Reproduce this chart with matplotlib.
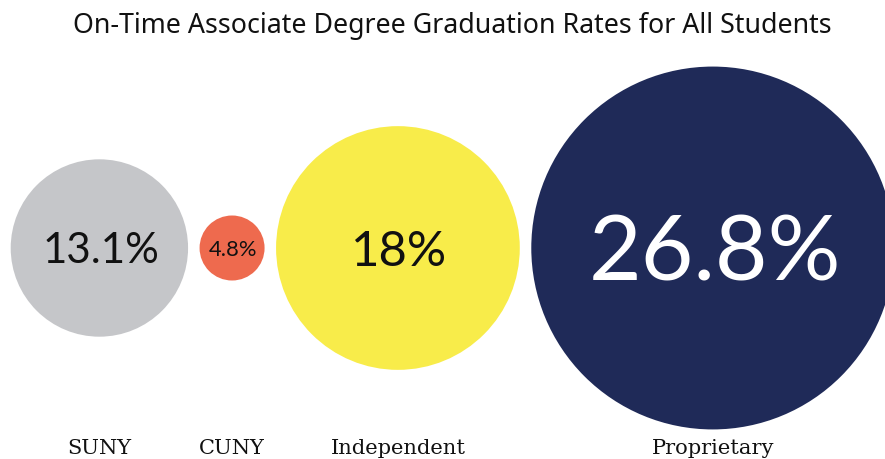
import matplotlib
matplotlib.use("Agg")
import matplotlib.pyplot as plt
from matplotlib.patches import Circle

# Data
categories = ["SUNY", "CUNY", "Independent", "Proprietary"]
rates = [13.1, 4.8, 18.0, 26.8]
value_labels = ["13.1%", "4.8%", "18%", "26.8%"]
title = "On-Time Associate Degree Graduation Rates for All Students"

# Styles
colors = ["#c5c6c9", "#ee6a4e", "#f8ec4a", "#1f2a58"]
text_colors = ["#111111", "#111111", "#111111", "#ffffff"]
value_font_px = [42, 22, 49, 91]

W, H = 885, 459
DPI = 100
fig = plt.figure(figsize=(W / DPI, H / DPI), dpi=DPI)
ax = fig.add_axes([0, 0, 1, 1])
ax.set_xlim(0, W)
ax.set_ylim(H, 0)
ax.set_aspect("equal")
ax.axis("off")

k = 6.77       # px per percentage point (radius)
gap = 11.5
left = 10.7
cy = 248

x = left
centers = []
for r_val in rates:
    r = r_val * k
    cx = x + r
    centers.append(cx)
    x = cx + r + gap

px2pt = 72.0 / DPI
for cat, v, lab, col, tcol, fpx, cx in zip(categories, rates, value_labels,
                                           colors, text_colors, value_font_px, centers):
    ax.add_patch(Circle((cx, cy), v * k, facecolor=col, edgecolor="none"))
    ax.text(cx + 0.03 * fpx, cy + 0.36 * fpx, lab, ha="center", va="baseline",
            fontsize=fpx * px2pt, color=tcol, family="Lato")
    ax.text(cx, 454, cat, ha="center", va="baseline",
            fontsize=21 * px2pt, color="#111111", family="DejaVu Serif")

# Title, fitted to target width
t = ax.text(452, 33, title, ha="center", va="baseline",
            fontsize=19, color="#111111", family="Noto Sans")
fig.canvas.draw()
bb = t.get_window_extent(renderer=fig.canvas.get_renderer())
t.set_fontsize(19 * 758.0 / bb.width)

fig.savefig("out.png", dpi=DPI, facecolor="white")
